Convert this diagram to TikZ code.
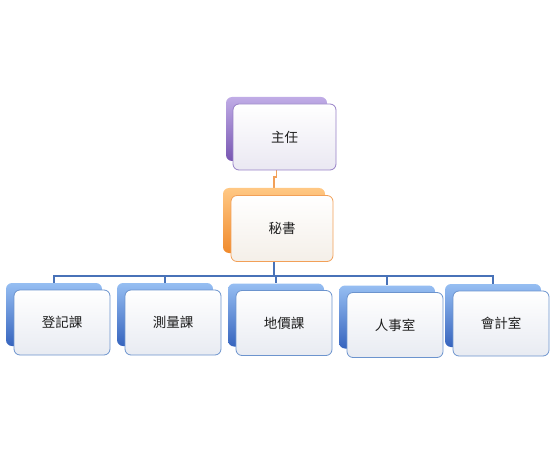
\documentclass[tikz,border=0pt]{standalone}
\usepackage{fontspec}
\newfontfamily\cjk{Noto Sans CJK TC}
\usepackage{tikz}
\usetikzlibrary{backgrounds}
\definecolor{purpletop}{RGB}{192,172,230}
\definecolor{purplemid}{RGB}{156,126,206}
\definecolor{purplebot}{RGB}{120,86,178}
\definecolor{purpleline}{RGB}{150,128,198}
\definecolor{purplefill}{RGB}{234,232,242}
\definecolor{orangetop}{RGB}{255,200,132}
\definecolor{orangemid}{RGB}{252,172,90}
\definecolor{orangebot}{RGB}{240,138,44}
\definecolor{orangeline}{RGB}{242,160,88}
\definecolor{orangefill}{RGB}{244,239,232}
\definecolor{bluetop}{RGB}{150,190,242}
\definecolor{bluemid}{RGB}{96,146,222}
\definecolor{bluebot}{RGB}{54,100,190}
\definecolor{blueline}{RGB}{108,148,206}
\definecolor{bluefill}{RGB}{232,235,242}
\definecolor{buscolor}{RGB}{72,114,184}
\definecolor{textgray}{RGB}{30,30,30}
\tikzstyle{back} = [rectangle, rounded corners=6pt, minimum width=96pt, minimum height=63pt, draw=none]
\tikzstyle{backpurple} = [back, minimum width=101pt, minimum height=64pt, top color=purpletop, middle color=purplemid, bottom color=purplebot]
\tikzstyle{backorange} = [back, minimum width=102pt, minimum height=65pt, top color=orangetop, middle color=orangemid, bottom color=orangebot]
\tikzstyle{backblue} = [back, top color=bluetop, middle color=bluemid, bottom color=bluebot]
\tikzstyle{front} = [rectangle, rounded corners=6pt, minimum width=96pt, minimum height=65pt, line width=0.8pt, text=textgray, font=\cjk\fontsize{13.5}{16}\selectfont]
\tikzstyle{frontpurple} = [front, minimum width=103pt, minimum height=66pt, draw=purpleline, top color=white, bottom color=purplefill]
\tikzstyle{frontorange} = [front, minimum width=102pt, minimum height=66pt, draw=orangeline, top color=white, bottom color=orangefill]
\tikzstyle{frontblue} = [front, draw=blueline, top color=white, bottom color=bluefill]
\tikzstyle{orangelink} = [line width=1.8pt, draw=orangeline]
\tikzstyle{bluelink} = [line width=1.8pt, draw=buscolor]

\begin{document}
\begin{tikzpicture}[x=1pt, y=-1pt]
\useasboundingbox (0,0) rectangle (553,470);
\node (zhurenback) [backpurple] at (276.5,129) {};
\node (zhuren) [frontpurple] at ([xshift=8pt,yshift=-8pt]zhurenback.center) {主任};
\node (mishuback) [backorange] at (274,220.5) {};
\node (mishu) [frontorange] at ([xshift=8pt,yshift=-8pt]mishuback.center) {秘書};
\node (dengjiback) [backblue] at (54,314.5) {};
\node (dengji) [frontblue] at ([xshift=8pt,yshift=-8pt]dengjiback.center) {登記課};
\node (celiangback) [backblue] at (165,314.5) {};
\node (celiang) [frontblue] at ([xshift=8pt,yshift=-8pt]celiangback.center) {測量課};
\node (dijiaback) [backblue] at (276,315) {};
\node (dijia) [frontblue] at ([xshift=8pt,yshift=-8pt]dijiaback.center) {地價課};
\node (renshiback) [backblue] at (387,317) {};
\node (renshi) [frontblue] at ([xshift=8pt,yshift=-8pt]renshiback.center) {人事室};
\node (kuaijiback) [backblue] at (493,315.5) {};
\node (kuaiji) [frontblue] at ([xshift=8pt,yshift=-8pt]kuaijiback.center) {會計室};
\begin{scope}[on background layer]
\draw[orangelink] (zhurenback.south) -- ++(0,16) -| (mishuback.north);
\foreach \unit in {dengji,celiang,dijia,renshi,kuaiji}
  \draw[bluelink] (mishuback.south) -- ++(0,23) -| (\unit back.north);
\end{scope}
\end{tikzpicture}
\end{document}
